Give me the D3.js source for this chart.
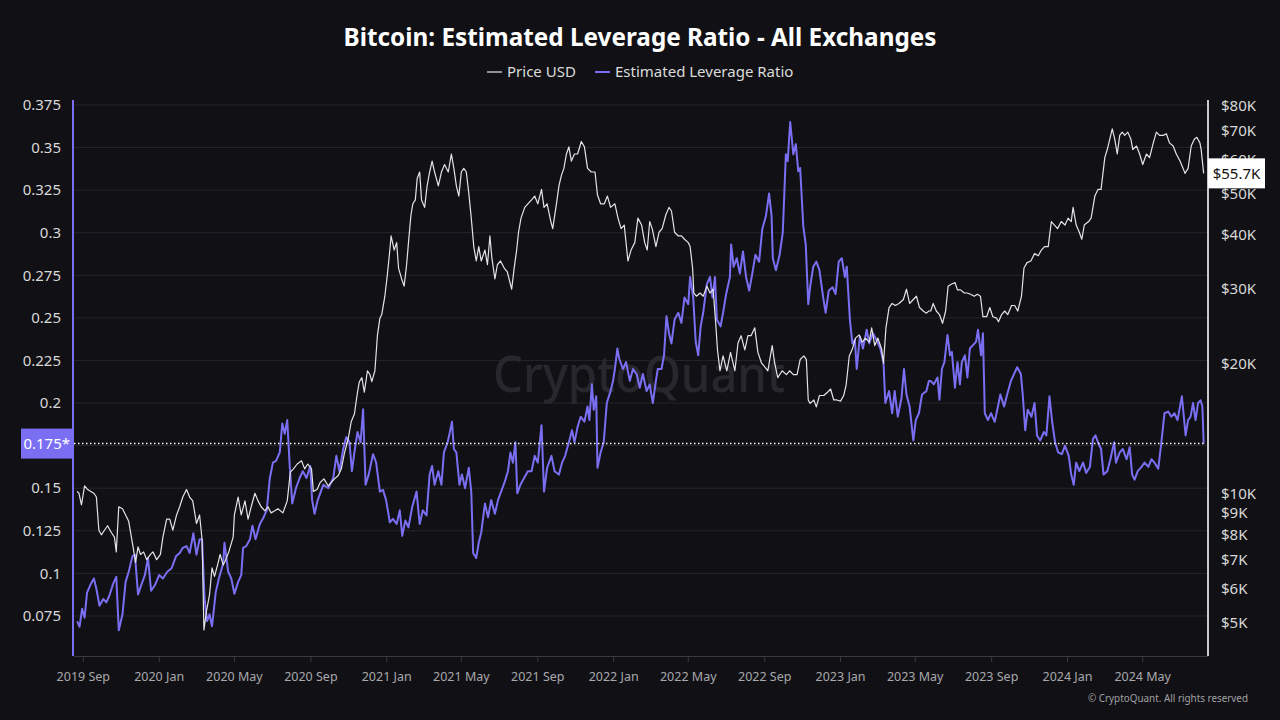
<!DOCTYPE html>
<html><head><meta charset="utf-8">
<script src="https://cdn.jsdelivr.net/npm/d3@7"></script>
<style>html,body{margin:0;padding:0;background:#111115;}svg{display:block}</style>
</head><body>
<svg id="chart" width="1280" height="720"></svg>
<script>
// ---------- DATA ----------
const leverageDates = [
"2019-08-22","2019-08-26","2019-08-30","2019-09-03","2019-09-07","2019-09-12","2019-09-18","2019-09-22","2019-09-27","2019-10-03",
"2019-10-08","2019-10-13","2019-10-19","2019-10-24","2019-10-28","2019-11-03","2019-11-08","2019-11-13","2019-11-19","2019-11-23",
"2019-11-28","2019-12-03","2019-12-09","2019-12-14","2019-12-19","2019-12-25","2020-01-01","2020-01-07","2020-01-14","2020-01-21",
"2020-01-28","2020-02-03","2020-02-08","2020-02-14","2020-02-19","2020-02-25","2020-03-01","2020-03-06","2020-03-10","2020-03-14",
"2020-03-18","2020-03-22","2020-03-26","2020-04-01","2020-04-06","2020-04-13","2020-04-15","2020-04-21","2020-04-26","2020-05-01",
"2020-05-07","2020-05-12","2020-05-15","2020-05-20","2020-05-26","2020-05-30","2020-06-04","2020-06-11","2020-06-17","2020-06-22",
"2020-06-27","2020-07-02","2020-07-07","2020-07-13","2020-07-17","2020-07-21","2020-07-25","2020-07-29","2020-08-02","2020-08-08",
"2020-08-14","2020-08-19","2020-08-25","2020-08-31","2020-09-03","2020-09-07","2020-09-12","2020-09-21","2020-09-29","2020-10-07",
"2020-10-12","2020-10-17","2020-10-23","2020-10-28","2020-11-02","2020-11-06","2020-11-10","2020-11-15","2020-11-20","2020-11-24",
"2020-11-28","2020-12-03","2020-12-10","2020-12-15","2020-12-21","2020-12-26","2020-12-31","2021-01-06","2021-01-11","2021-01-17",
"2021-01-22","2021-01-26","2021-01-31","2021-02-05","2021-02-11","2021-02-18","2021-02-23","2021-02-28","2021-03-06","2021-03-11",
"2021-03-15","2021-03-19","2021-03-25","2021-03-30","2021-04-03","2021-04-09","2021-04-12","2021-04-16","2021-04-19","2021-04-23",
"2021-04-28","2021-05-02","2021-05-07","2021-05-13","2021-05-17","2021-05-20","2021-05-25","2021-05-29","2021-06-02","2021-06-08",
"2021-06-13","2021-06-18","2021-06-24","2021-06-29","2021-07-04","2021-07-10","2021-07-15","2021-07-19","2021-07-23","2021-07-27",
"2021-07-30","2021-08-04","2021-08-10","2021-08-16","2021-08-22","2021-08-27","2021-09-01","2021-09-07","2021-09-11","2021-09-16",
"2021-09-23","2021-09-28","2021-10-05","2021-10-10","2021-10-15","2021-10-21","2021-10-26","2021-10-30","2021-11-04","2021-11-09",
"2021-11-15","2021-11-20","2021-11-23","2021-11-27","2021-11-30","2021-12-04","2021-12-06","2021-12-11","2021-12-16","2021-12-21",
"2021-12-27","2021-12-31","2022-01-03","2022-01-07","2022-01-10","2022-01-16","2022-01-21","2022-01-27","2022-02-01","2022-02-07",
"2022-02-12","2022-02-17","2022-02-23","2022-02-28","2022-03-05","2022-03-10","2022-03-13","2022-03-19","2022-03-23","2022-03-27",
"2022-03-31","2022-04-04","2022-04-09","2022-04-15","2022-04-20","2022-04-25","2022-05-01","2022-05-04","2022-05-09","2022-05-13",
"2022-05-17","2022-05-21","2022-05-25","2022-05-31","2022-06-05","2022-06-09","2022-06-13","2022-06-16","2022-06-22","2022-06-26",
"2022-07-01","2022-07-07","2022-07-09","2022-07-13","2022-07-18","2022-07-23","2022-07-28","2022-08-02","2022-08-07","2022-08-12",
"2022-08-17","2022-08-23","2022-08-28","2022-09-03","2022-09-08","2022-09-12","2022-09-14","2022-09-19","2022-09-25","2022-09-30",
"2022-10-05","2022-10-08","2022-10-12","2022-10-17","2022-10-21","2022-10-25","2022-10-28","2022-11-02","2022-11-06","2022-11-10",
"2022-11-13","2022-11-18","2022-11-23","2022-11-28","2022-12-04","2022-12-08","2022-12-13","2022-12-19","2022-12-24","2022-12-29",
"2023-01-03","2023-01-08","2023-01-11","2023-01-16","2023-01-20","2023-01-24","2023-01-27","2023-02-01","2023-02-06","2023-02-12",
"2023-02-16","2023-02-22","2023-02-28","2023-03-06","2023-03-11","2023-03-14","2023-03-20","2023-03-25","2023-03-29","2023-04-03",
"2023-04-09","2023-04-13","2023-04-17","2023-04-22","2023-04-28","2023-05-02","2023-05-07","2023-05-12","2023-05-19","2023-05-23",
"2023-05-26","2023-05-31","2023-06-06","2023-06-09","2023-06-13","2023-06-17","2023-06-22","2023-06-26","2023-06-29","2023-07-04",
"2023-07-08","2023-07-12","2023-07-15","2023-07-20","2023-07-24","2023-07-28","2023-08-02","2023-08-07","2023-08-10","2023-08-15",
"2023-08-18","2023-08-21","2023-08-26","2023-08-31","2023-09-06","2023-09-10","2023-09-15","2023-09-21","2023-09-26","2023-10-02",
"2023-10-07","2023-10-12","2023-10-18","2023-10-21","2023-10-25","2023-10-29","2023-11-04","2023-11-09","2023-11-13","2023-11-18",
"2023-11-24","2023-11-28","2023-12-03","2023-12-07","2023-12-12","2023-12-17","2023-12-23","2023-12-28","2024-01-03","2024-01-07",
"2024-01-11","2024-01-15","2024-01-20","2024-01-26","2024-01-31","2024-02-06","2024-02-11","2024-02-15","2024-02-19","2024-02-24",
"2024-02-28","2024-03-05","2024-03-10","2024-03-16","2024-03-19","2024-03-25","2024-03-30","2024-04-05","2024-04-10","2024-04-14",
"2024-04-18","2024-04-23","2024-04-29","2024-05-04","2024-05-10","2024-05-15","2024-05-20","2024-05-26","2024-05-31","2024-06-05",
"2024-06-11","2024-06-16","2024-06-21","2024-06-26","2024-07-03","2024-07-09","2024-07-13","2024-07-17","2024-07-21","2024-07-25",
"2024-07-29","2024-08-02","2024-08-05","2024-08-07"
];
const leverageValues = [
.0718,.0687,.0792,.074,.0887,.093,.097,.091,.081,.085,
.083,.087,.094,.098,.0666,.076,.095,.101,.110,.111,
.0877,.093,.099,.109,.0898,.093,.099,.097,.101,.103,
.110,.112,.115,.116,.112,.1235,.111,.120,.120,.0855,
.072,.076,.069,.089,.097,.106,.118,.101,.097,.088,
.095,.099,.115,.116,.120,.128,.120,.129,.133,.137,
.156,.165,.166,.171,.188,.182,.190,.163,.141,.150,
.156,.160,.156,.163,.143,.135,.143,.152,.150,.156,
.169,.160,.173,.180,.177,.160,.171,.183,.177,.1963,
.152,.158,.170,.165,.148,.149,.143,.130,.132,.129,
.137,.122,.131,.127,.139,.148,.129,.137,.134,.158,
.163,.152,.160,.152,.171,.177,.182,.189,.173,.171,
.152,.158,.150,.162,.148,.112,.109,.118,.124,.141,
.133,.143,.135,.143,.148,.154,.160,.171,.165,.177,
.147,.152,.156,.160,.160,.169,.165,.187,.148,.162,
.169,.160,.158,.165,.169,.177,.184,.177,.186,.192,
.189,.198,.190,.211,.196,.204,.162,.171,.177,.200,
.207,.213,.220,.232,.226,.220,.224,.213,.220,.217,
.209,.217,.207,.211,.200,.213,.220,.220,.228,.251,
.241,.235,.249,.253,.247,.262,.258,.274,.262,.236,
.228,.245,.253,.270,.274,.262,.274,.249,.245,.253,
.264,.274,.293,.280,.285,.276,.289,.274,.266,.276,
.287,.283,.302,.310,.323,.310,.285,.278,.287,.300,
.346,.342,.365,.346,.352,.336,.338,.304,.293,.258,
.268,.280,.283,.278,.262,.253,.266,.268,.264,.283,
.285,.274,.280,.249,.235,.237,.220,.239,.232,.243,
.235,.241,.237,.232,.224,.200,.207,.194,.207,.192,
.203,.220,.205,.198,.178,.190,.194,.205,.207,.213,
.213,.211,.215,.202,.220,.224,.240,.228,.230,.209,
.224,.211,.224,.228,.215,.232,.234,.236,.243,.228,
.241,.194,.190,.194,.189,.196,.205,.198,.205,.213,
.217,.221,.217,.205,.184,.196,.192,.200,.181,.178,
.183,.181,.204,.190,.177,.171,.170,.175,.169,.158,
.152,.165,.160,.165,.159,.1625,.179,.181,.177,.173,
.158,.160,.167,.177,.165,.171,.173,.167,.174,.158,
.155,.160,.1625,.165,.1625,.167,.165,.1615,.177,.194,
.195,.192,.194,.190,.204,.181,.190,.192,.200,.190,
.200,.2016,.198,.1762
];
const priceDates = [
"2019-08-22","2019-08-25","2019-08-29","2019-09-03","2019-09-08","2019-09-13","2019-09-18","2019-09-22","2019-09-26","2019-09-30",
"2019-10-05","2019-10-10","2019-10-16","2019-10-21","2019-10-24","2019-10-28","2019-11-03","2019-11-08","2019-11-13","2019-11-20",
"2019-11-24","2019-11-28","2019-12-02","2019-12-07","2019-12-12","2019-12-18","2019-12-22","2019-12-28","2020-01-03","2020-01-07",
"2020-01-13","2020-01-18","2020-01-23","2020-01-29","2020-02-03","2020-02-08","2020-02-14","2020-02-19","2020-02-24","2020-03-01",
"2020-03-06","2020-03-10","2020-03-13","2020-03-17","2020-03-22","2020-03-26","2020-03-30","2020-04-05","2020-04-08","2020-04-13",
"2020-04-17","2020-04-22","2020-04-29","2020-05-01","2020-05-07","2020-05-12","2020-05-18","2020-05-23","2020-05-28","2020-06-03",
"2020-06-08","2020-06-13","2020-06-19","2020-06-24","2020-06-29","2020-07-05","2020-07-10","2020-07-18","2020-07-25","2020-07-30",
"2020-08-04","2020-08-10","2020-08-17","2020-08-22","2020-08-27","2020-09-02","2020-09-05","2020-09-11","2020-09-16","2020-09-22",
"2020-09-29","2020-10-04","2020-10-09","2020-10-15","2020-10-20","2020-10-25","2020-10-31","2020-11-05","2020-11-10","2020-11-15",
"2020-11-18","2020-11-22","2020-11-26","2020-12-01","2020-12-05","2020-12-08","2020-12-13","2020-12-17","2020-12-21","2020-12-24",
"2020-12-29","2021-01-02","2021-01-06","2021-01-08","2021-01-13","2021-01-17","2021-01-20","2021-01-25","2021-01-29","2021-02-02",
"2021-02-05","2021-02-09","2021-02-12","2021-02-16","2021-02-19","2021-02-23","2021-02-26","2021-03-03","2021-03-07","2021-03-11",
"2021-03-15","2021-03-19","2021-03-25","2021-03-30","2021-04-04","2021-04-10","2021-04-15","2021-04-19","2021-04-23","2021-04-27",
"2021-05-01","2021-05-05","2021-05-09","2021-05-13","2021-05-17","2021-05-21","2021-05-25","2021-05-29","2021-06-02","2021-06-08",
"2021-06-12","2021-06-16","2021-06-19","2021-06-24","2021-06-28","2021-07-03","2021-07-09","2021-07-14","2021-07-21","2021-07-25",
"2021-07-29","2021-08-01","2021-08-05","2021-08-11","2021-08-16","2021-08-22","2021-08-27","2021-09-01","2021-09-07","2021-09-11",
"2021-09-16","2021-09-22","2021-09-25","2021-10-01","2021-10-05","2021-10-09","2021-10-13","2021-10-17","2021-10-21","2021-10-25",
"2021-10-30","2021-11-04","2021-11-10","2021-11-15","2021-11-20","2021-11-26","2021-12-02","2021-12-06","2021-12-11","2021-12-17",
"2021-12-22","2021-12-27","2022-01-03","2022-01-08","2022-01-13","2022-01-18","2022-01-24","2022-01-29","2022-02-04","2022-02-09",
"2022-02-15","2022-02-18","2022-02-20","2022-02-24","2022-02-28","2022-03-04","2022-03-10","2022-03-15","2022-03-20","2022-03-26",
"2022-03-31","2022-04-04","2022-04-09","2022-04-15","2022-04-20","2022-04-25","2022-05-01","2022-05-04","2022-05-08","2022-05-10",
"2022-05-14","2022-05-20","2022-05-25","2022-05-31","2022-06-05","2022-06-10","2022-06-14","2022-06-17","2022-06-21","2022-06-26",
"2022-07-02","2022-07-08","2022-07-15","2022-07-20","2022-07-25","2022-07-31","2022-08-05","2022-08-10","2022-08-16","2022-08-21",
"2022-08-27","2022-09-01","2022-09-06","2022-09-13","2022-09-17","2022-09-22","2022-09-29","2022-10-06","2022-10-11","2022-10-17",
"2022-10-23","2022-10-28","2022-11-03","2022-11-07","2022-11-10","2022-11-13","2022-11-19","2022-11-23","2022-11-28","2022-12-05",
"2022-12-11","2022-12-16","2022-12-21","2022-12-26","2023-01-01","2023-01-06","2023-01-10","2023-01-15","2023-01-20","2023-01-25",
"2023-01-31","2023-02-05","2023-02-10","2023-02-16","2023-02-20","2023-02-25","2023-03-02","2023-03-08","2023-03-11","2023-03-15",
"2023-03-20","2023-03-25","2023-03-30","2023-04-05","2023-04-12","2023-04-17","2023-04-22","2023-04-28","2023-05-03","2023-05-08",
"2023-05-14","2023-05-19","2023-05-23","2023-05-26","2023-05-30","2023-06-04","2023-06-09","2023-06-14","2023-06-19","2023-06-23",
"2023-06-28","2023-07-04","2023-07-08","2023-07-13","2023-07-19","2023-07-24","2023-07-29","2023-08-04","2023-08-09","2023-08-14",
"2023-08-18","2023-08-24","2023-08-29","2023-09-03","2023-09-09","2023-09-12","2023-09-17","2023-09-22","2023-09-27","2023-10-03",
"2023-10-08","2023-10-13","2023-10-19","2023-10-23","2023-10-28","2023-11-03","2023-11-09","2023-11-15","2023-11-20","2023-11-25",
"2023-12-01","2023-12-06","2023-12-11","2023-12-16","2023-12-22","2023-12-28","2024-01-02","2024-01-07","2024-01-10","2024-01-15",
"2024-01-20","2024-01-24","2024-01-28","2024-02-04","2024-02-08","2024-02-14","2024-02-19","2024-02-24","2024-03-01","2024-03-05",
"2024-03-09","2024-03-13","2024-03-17","2024-03-21","2024-03-25","2024-03-29","2024-04-02","2024-04-07","2024-04-12","2024-04-15",
"2024-04-21","2024-04-26","2024-05-01","2024-05-07","2024-05-12","2024-05-18","2024-05-23","2024-05-28","2024-06-03","2024-06-08",
"2024-06-13","2024-06-19","2024-06-24","2024-06-30","2024-07-05","2024-07-08","2024-07-13","2024-07-18","2024-07-23","2024-07-27",
"2024-08-01","2024-08-03","2024-08-07"
];
const priceValues = [
10100,10000,9400,10400,10200,10100,10000,9800,8200,8000,
8200,8400,8100,7900,7300,9300,9200,8900,8600,7500,
6900,7500,7200,7300,7000,7200,7300,7000,7200,7900,
8700,8700,8200,8900,9300,9800,10200,9800,9600,8500,
8900,7800,4800,5300,5800,6700,6400,6900,7200,6800,
7000,7300,7900,8900,9800,8900,9600,8700,9300,10000,
9600,9300,9100,9300,9000,9100,9200,9000,9600,11200,
11400,11700,11900,11400,11700,11400,10100,10200,10600,10800,
10400,10600,10800,11000,11400,12400,13400,14700,15300,17200,
18200,18600,17200,19300,18900,18200,19300,23300,25600,26100,
28800,32300,36900,39800,36900,38400,33500,31600,30400,34100,
38400,44600,47300,48300,54200,56100,48300,46400,52100,56100,
59500,56100,52100,56100,58400,56100,61800,57200,52100,49300,
56100,57200,56100,50100,43800,37600,34800,37600,34800,36900,
34100,39800,35500,31600,34100,34800,33500,32800,29900,33500,
36900,40600,43800,46400,47300,48300,49300,47300,51100,46400,
47300,43000,41400,47300,52100,55100,57200,61800,64200,59500,
61800,61800,66100,64200,57200,56100,56100,49600,47300,47300,
49300,46400,47300,43800,41400,42200,34800,36900,38400,43800,
42200,39800,38400,36900,43000,41400,37600,40600,41400,44600,
46400,45500,40600,39800,39800,39100,38400,37600,33500,29300,
28800,29300,28800,30400,29300,29900,25100,21600,19300,20900,
19300,21300,19300,22400,23300,21600,23300,23300,24300,21300,
20100,19700,19300,22100,20100,18600,19300,18900,19300,18900,
18900,20500,20900,20500,16500,16200,16500,15900,16900,16900,
17200,17500,16500,16500,16400,16900,17900,20900,21700,23000,
23400,22500,23000,22500,24300,22100,23000,21700,20100,24300,
27100,27700,27400,27700,28300,29900,27700,28300,28800,27100,
26600,26300,26600,26600,27700,26600,26100,24900,26600,30400,
30700,31000,29800,29800,29300,29300,29100,28800,29100,28800,
25800,25800,27100,25800,25600,25100,26100,26600,26100,27400,
27400,26600,28800,33500,34500,34800,36200,35800,36900,37600,
37600,43000,42200,41400,43000,42200,43800,43000,46400,42200,
40600,39100,42200,43000,43800,49300,51100,51100,60600,63300,
66900,70700,66900,61800,68300,69500,68300,69500,66900,63300,
64500,61800,58400,61800,60600,65600,69500,68300,68300,68900,
65600,64500,61800,59500,57200,55700,57200,64500,66900,67600,
65600,63300,55700
];
// left tick at 0.175 is hidden behind the current-value box in the reference
const leftTicks = [0.075,0.1,0.125,0.15,0.175,0.2,0.225,0.25,0.275,0.3,0.325,0.35,0.375];
const leftTickLabels = ["0.075","0.1","0.125","0.15","","0.2","0.225","0.25","0.275","0.3","0.325","0.35","0.375"];
const rightTicks = [5000,6000,7000,8000,9000,10000,20000,30000,40000,50000,60000,70000,80000];
const rightTickLabels = ["$5K","$6K","$7K","$8K","$9K","$10K","$20K","$30K","$40K","$50K","$60K","$70K","$80K"];
const seriesNames = ["Price USD","Estimated Leverage Ratio"];
const currentLeverageLabel = "0.175*";
const currentPriceLabel = "$55.7K";

// ---------- CHART ----------
const PURPLE = "#7a6ff2", WHITE = "#e4e4e8";
const FONT = "'Noto Sans','Open Sans',sans-serif";
const parse = d3.utcParse("%Y-%m-%d");
const lev = leverageDates.map((d,i)=>({date:parse(d), v:leverageValues[i]}));
const price = priceDates.map((d,i)=>({date:parse(d), v:priceValues[i]}));

const L = 74, R = 1208, T = 100, B = 656;
const x = d3.scaleUtc().domain([parse("2019-08-17"), parse("2024-08-14")]).range([L, R]);
const yL = d3.scaleLinear().domain([0.0515, 0.3779]).range([B, T]);
const yR = d3.scaleLog().domain([4174, 82580]).range([B, T]);

const svg = d3.select("#chart");
svg.append("rect").attr("width",1280).attr("height",720).attr("fill","#111115");

// title
svg.append("text").attr("x",640).attr("y",46).attr("text-anchor","middle")
  .attr("fill","#ffffff").attr("font-family",FONT).attr("font-weight","bold").attr("font-size",24.3)
  .text("Bitcoin: Estimated Leverage Ratio - All Exchanges");

// legend
const legend = svg.append("g").attr("font-family",FONT).attr("font-size",15).attr("fill","#dcdcdc");
legend.append("line").attr("x1",487).attr("x2",502).attr("y1",72).attr("y2",72).attr("stroke","#bdbdbd").attr("stroke-width",1.5);
legend.append("text").attr("x",507).attr("y",77).text(seriesNames[0]);
legend.append("line").attr("x1",595).attr("x2",610).attr("y1",72).attr("y2",72).attr("stroke",PURPLE).attr("stroke-width",2);
legend.append("text").attr("x",615).attr("y",77).text(seriesNames[1]);

// gridlines
svg.append("g").selectAll("line").data(leftTicks).join("line")
  .attr("x1",L).attr("x2",R).attr("y1",d=>yL(d)).attr("y2",d=>yL(d))
  .attr("stroke","#24242a").attr("stroke-width",1);

// watermark
svg.append("text").attr("x",639).attr("y",392).attr("text-anchor","middle")
  .attr("font-family",FONT).attr("font-size",50).attr("font-weight",500)
  .attr("fill","#27272d").attr("textLength",292).attr("lengthAdjust","spacingAndGlyphs")
  .text("CryptoQuant");

// clip
svg.append("clipPath").attr("id","plot").append("rect").attr("x",L).attr("y",T).attr("width",R-L).attr("height",B-T);

const levLine = d3.line().x(d=>x(d.date)).y(d=>yL(d.v));
const priceLine = d3.line().x(d=>x(d.date)).y(d=>yR(d.v));

const plot = svg.append("g").attr("clip-path","url(#plot)");
plot.append("path").datum(lev).attr("d",levLine).attr("fill","none")
  .attr("stroke",PURPLE).attr("stroke-width",2).attr("stroke-linejoin","round");
plot.append("path").datum(price).attr("d",priceLine).attr("fill","none")
  .attr("stroke",WHITE).attr("stroke-width",1.2).attr("stroke-linejoin","round");

// current-value dotted line
const lastLev = lev[lev.length-1];
svg.append("line").attr("x1",L).attr("x2",x(lastLev.date)).attr("y1",yL(lastLev.v)).attr("y2",yL(lastLev.v))
  .attr("stroke","#ffffff").attr("stroke-width",1.5).attr("stroke-dasharray","1.5,2.5");

// left axis
const gl = svg.append("g").attr("font-family",FONT).attr("font-size",15).attr("fill","#d8d8d8");
gl.selectAll("text").data(leftTicks.filter((d,i)=>leftTickLabels[i])).join("text")
  .attr("x",61).attr("y",d=>yL(d)).attr("dy","0.35em").attr("text-anchor","end")
  .text(d=>leftTickLabels[leftTicks.indexOf(d)]);
svg.append("line").attr("x1",L-1).attr("x2",L-1).attr("y1",T).attr("y2",B).attr("stroke",PURPLE).attr("stroke-width",2);

// current leverage box
const ly = yL(lastLev.v);
svg.append("rect").attr("x",21).attr("y",ly-15).attr("width",52).attr("height",30).attr("fill",PURPLE);
svg.append("text").attr("x",70).attr("y",ly).attr("dy","0.35em").attr("text-anchor","end")
  .attr("font-family",FONT).attr("font-size",15).attr("fill","#ffffff").text(currentLeverageLabel);

// right axis
svg.append("line").attr("x1",R).attr("x2",R).attr("y1",T).attr("y2",B).attr("stroke","#c8c8c8").attr("stroke-width",2);
const gr = svg.append("g").attr("font-family",FONT).attr("font-size",15).attr("fill","#d8d8d8");
gr.selectAll("text").data(rightTicks).join("text")
  .attr("x",1221).attr("y",d=>yR(d)).attr("dy","0.35em").attr("text-anchor","start")
  .text((d,i)=>rightTickLabels[i]);

// current price box
const lastP = price[price.length-1];
const py = yR(lastP.v);
svg.append("rect").attr("x",R).attr("y",py-15).attr("width",57).attr("height",30).attr("fill","#ffffff");
svg.append("text").attr("x",R+28.5).attr("y",py).attr("dy","0.35em").attr("text-anchor","middle")
  .attr("font-family",FONT).attr("font-size",15).attr("fill","#111111").text(currentPriceLabel);

// bottom axis
svg.append("line").attr("x1",L).attr("x2",R).attr("y1",B+0.5).attr("y2",B+0.5).attr("stroke","#3a3a40").attr("stroke-width",1);
const xt = x.ticks(d3.utcMonth.every(4)).filter(d=>d>=x.domain()[0]);
const fmt = d3.utcFormat("%Y %b");
const gx = svg.append("g");
gx.selectAll("line").data(xt).join("line")
  .attr("x1",d=>x(d)).attr("x2",d=>x(d)).attr("y1",B).attr("y2",B+6).attr("stroke","#3a3a40");
gx.selectAll("text").data(xt).join("text")
  .attr("x",d=>x(d)).attr("y",681).attr("text-anchor","middle")
  .attr("font-family",FONT).attr("font-size",12.5).attr("fill","#a8a8ac").text(d=>fmt(d));

// copyright
svg.append("text").attr("x",1248).attr("y",702).attr("text-anchor","end")
  .attr("font-family",FONT).attr("font-size",11).attr("fill","#a0a0a4")
  .attr("textLength",160).attr("lengthAdjust","spacingAndGlyphs")
  .text("© CryptoQuant. All rights reserved");
</script>
</body></html>
